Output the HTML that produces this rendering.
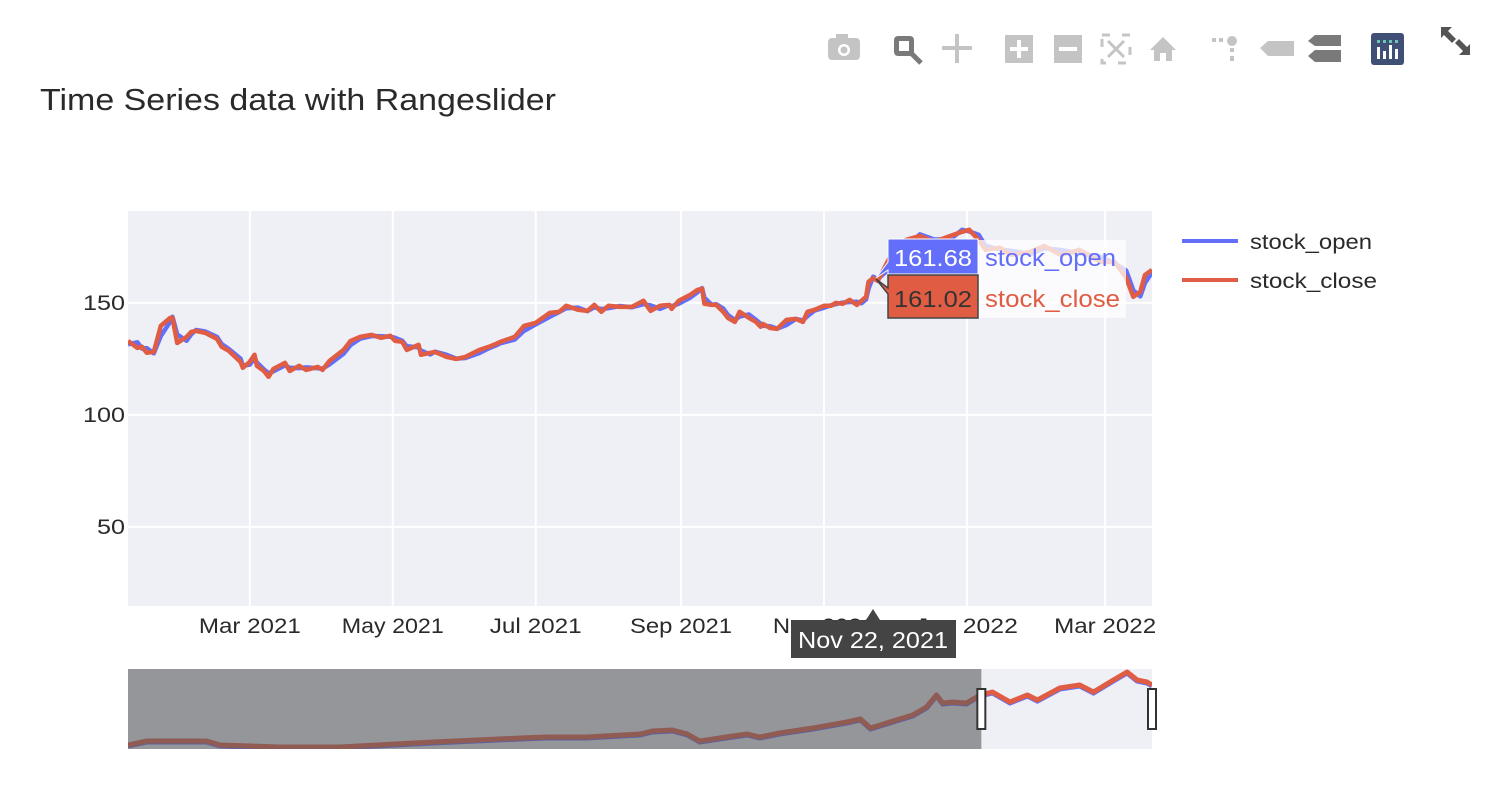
<!DOCTYPE html>
<html><head><meta charset="utf-8">
<style>
html,body{margin:0;padding:0;background:#fff;}
body{width:1502px;height:796px;overflow:hidden;font-family:"Liberation Sans",sans-serif;}
svg text{font-family:"Liberation Sans",sans-serif;}
</style></head>
<body>
<svg id="chart" width="1502" height="796" viewBox="0 0 1502 796">
  <g id="modebar">
    <g><rect x="828" y="38" width="32" height="22" rx="4" fill="#c4c4c4"/><rect x="836" y="34" width="12" height="6" fill="#c4c4c4"/><circle cx="844" cy="50" r="6" fill="#fff"/><circle cx="844" cy="50" r="3.5" fill="#c4c4c4"/></g>
    <g><rect x="894" y="36" width="20" height="20" rx="4" fill="#7a7a7a"/><rect x="899" y="41" width="10" height="10" fill="#fff"/><line x1="912" y1="54" x2="921" y2="63" stroke="#7a7a7a" stroke-width="5"/></g>
    <g stroke="#c4c4c4" stroke-width="4" fill="#c4c4c4"><line x1="957" y1="34" x2="957" y2="63"/><line x1="942" y1="48" x2="972" y2="48"/></g>
    <g><rect x="1005" y="35" width="28" height="28" fill="#c4c4c4"/><rect x="1017" y="40" width="4" height="18" fill="#fff"/><rect x="1010" y="47" width="18" height="4" fill="#fff"/></g>
    <g><rect x="1054" y="35" width="28" height="28" fill="#c4c4c4"/><rect x="1059" y="47" width="18" height="4" fill="#fff"/></g>
    <g stroke="#c4c4c4" stroke-width="3" fill="none"><rect x="1102" y="35" width="28" height="28" stroke-dasharray="8 12"/><line x1="1108" y1="41" x2="1124" y2="57"/><line x1="1124" y1="41" x2="1108" y2="57"/></g>
    <g><polygon points="1150,50 1163,37 1176,50 1172,50 1172,61 1154,61 1154,50" fill="#c4c4c4"/><rect x="1160" y="53" width="6" height="8" fill="#fff"/></g>
    <g fill="#c4c4c4"><rect x="1212" y="38" width="4" height="4"/><rect x="1219" y="38" width="4" height="4"/><circle cx="1232" cy="41" r="5"/><rect x="1230" y="48" width="4" height="4"/><rect x="1230" y="56" width="4" height="5"/></g>
    <g><polygon points="1260,48 1268,41 1294,41 1294,56 1268,56" fill="#c4c4c4"/></g>
    <g fill="#7a7a7a"><polygon points="1308,41 1315,35 1341,35 1341,46 1315,46"/><polygon points="1308,56 1315,50 1341,50 1341,62 1315,62"/></g>
    <g><rect x="1371" y="33" width="33" height="32" rx="3" fill="#3f4f75"/><g fill="#fff"><rect x="1377" y="47" width="3" height="12"/><rect x="1383" y="51" width="3" height="8"/><rect x="1389" y="45" width="3" height="14"/><rect x="1395" y="49" width="3" height="10"/></g><g fill="#69c5b5"><rect x="1377" y="40" width="3" height="3"/><rect x="1383" y="40" width="3" height="3"/><rect x="1389" y="40" width="3" height="3"/><rect x="1395" y="40" width="3" height="3"/></g></g>
    <g fill="#555"><polygon points="1441,27 1452,27 1448,31 1456,39 1452,43 1444,35 1441,38"/><polygon points="1470,55 1459,55 1463,51 1455,43 1459,39 1467,47 1470,44"/></g>
  </g>
  <text x="40" y="110" font-size="31" fill="#2a2a2a" textLength="516" lengthAdjust="spacingAndGlyphs">Time Series data with Rangeslider</text>
  <rect x="128" y="211" width="1024" height="395" fill="#eef0f5"/>
  <g id="grid"></g>
  <g id="yticks"></g>
  <g id="xticks"></g>
  <clipPath id="clipMain"><rect x="128" y="211" width="1024" height="395"/></clipPath>
  <g id="series" clip-path="url(#clipMain)"></g>
  <rect x="978" y="240" width="148" height="78" fill="#fff" opacity="0.75"/>
  <g>
    <polygon points="876,278 888,262 888,239 978,239 978,274 888,274 888,270" fill="#636efa" stroke="#fff" stroke-width="1"/>
    <text x="933" y="266" font-size="23" fill="#fff" text-anchor="middle" textLength="78" lengthAdjust="spacingAndGlyphs">161.68</text>
    <text x="985" y="266" font-size="24" fill="#636efa" textLength="131" lengthAdjust="spacingAndGlyphs">stock_open</text>
  </g>
  <g>
    <polygon points="876,279 888,288 888,275 978,275 978,318 888,318 888,294" fill="#e05d44" stroke="#444" stroke-width="1.5"/>
    <text x="933" y="307" font-size="23" fill="#333" text-anchor="middle" textLength="78" lengthAdjust="spacingAndGlyphs">161.02</text>
    <text x="985" y="307" font-size="24" fill="#e05d44" textLength="135" lengthAdjust="spacingAndGlyphs">stock_close</text>
  </g>
  <g>
    <polygon points="873,609 866,620 880,620" fill="#444"/>
    <rect x="791" y="620" width="165" height="38" fill="#444"/>
    <text x="873" y="648" font-size="23" fill="#fff" text-anchor="middle" textLength="150" lengthAdjust="spacingAndGlyphs">Nov 22, 2021</text>
  </g>
  <g>
    <g><line x1="1182" y1="241" x2="1238" y2="241" stroke="#636efa" stroke-width="4"/><text x="1250" y="249" font-size="21" fill="#2a2a2a" textLength="122" lengthAdjust="spacingAndGlyphs">stock_open</text></g>
    <g><line x1="1182" y1="280" x2="1238" y2="280" stroke="#e05d44" stroke-width="4"/><text x="1250" y="288" font-size="21" fill="#2a2a2a" textLength="127" lengthAdjust="spacingAndGlyphs">stock_close</text></g>
  </g>
  <g id="slider">
    <rect x="128" y="669" width="1024" height="80" fill="#eef0f5"/>
    <clipPath id="clipSlider"><rect x="128" y="669" width="1024" height="80"/></clipPath>
    <g id="sliderLines" clip-path="url(#clipSlider)"></g>
    <rect id="maskL" x="128" y="669" width="854" height="80" fill="#5a5a5e" opacity="0.6"/>
    <rect id="handleL" x="977" y="689" width="8" height="40" fill="#fff" stroke="#333" stroke-width="2"/>
    <rect id="handleR" x="1148" y="689" width="8" height="40" fill="#fff" stroke="#333" stroke-width="2"/>
  </g>
</svg>
<script>
const dates = ["2021-01-08","2021-01-12","2021-01-14","2021-01-16","2021-01-19","2021-01-22","2021-01-26","2021-01-27","2021-01-29","2021-02-02","2021-02-04","2021-02-06","2021-02-10","2021-02-15","2021-02-17","2021-02-20","2021-02-25","2021-02-26","2021-03-01","2021-03-03","2021-03-04","2021-03-07","2021-03-09","2021-03-11","2021-03-16","2021-03-18","2021-03-22","2021-03-25","2021-03-30","2021-04-01","2021-04-04","2021-04-10","2021-04-13","2021-04-17","2021-04-22","2021-04-26","2021-04-30","2021-05-02","2021-05-05","2021-05-07","2021-05-12","2021-05-13","2021-05-17","2021-05-19","2021-05-24","2021-05-28","2021-06-01","2021-06-07","2021-06-11","2021-06-14","2021-06-16","2021-06-22","2021-06-26","2021-07-01","2021-07-07","2021-07-11","2021-07-14","2021-07-19","2021-07-23","2021-07-26","2021-07-29","2021-08-01","2021-08-06","2021-08-11","2021-08-16","2021-08-19","2021-08-23","2021-08-27","2021-08-28","2021-08-31","2021-09-05","2021-09-08","2021-09-10","2021-09-11","2021-09-14","2021-09-16","2021-09-19","2021-09-21","2021-09-24","2021-09-26","2021-09-30","2021-10-03","2021-10-05","2021-10-06","2021-10-09","2021-10-12","2021-10-16","2021-10-20","2021-10-23","2021-10-25","2021-10-28","2021-11-01","2021-11-04","2021-11-06","2021-11-09","2021-11-12","2021-11-15","2021-11-17","2021-11-19","2021-11-20","2021-11-22","2021-11-24","2021-11-29","2021-12-06","2021-12-12","2021-12-18","2021-12-25","2021-12-30","2022-01-02","2022-01-06","2022-01-09","2022-01-15","2022-01-20","2022-01-28","2022-02-03","2022-02-10","2022-02-18","2022-02-27","2022-03-05","2022-03-10","2022-03-13","2022-03-16","2022-03-18","2022-03-21"];
const closeVals = [133.0,129.9,130.4,127.7,128.1,139.7,143.3,143.3,132.1,134.8,137.1,137.5,136.6,133.9,130.4,128.6,123.7,121.0,123.7,126.8,121.9,119.6,117.0,120.5,123.2,119.6,121.9,120.1,121.4,120.1,124.1,129.0,133.0,134.8,135.7,134.4,135.3,133.0,132.6,129.0,131.3,126.8,127.7,128.1,125.9,125.0,125.9,129.0,130.4,131.7,132.6,134.8,139.7,141.1,145.5,146.0,148.7,146.9,146.4,149.1,146.0,148.7,148.2,148.2,150.9,146.4,148.7,149.1,147.3,150.9,153.6,155.8,156.3,149.6,149.1,149.1,146.0,143.3,141.5,146.0,143.3,141.5,139.3,140.6,138.8,138.4,142.4,142.9,141.5,146.0,146.9,148.7,148.7,150.0,149.6,151.3,149.1,150.9,152.7,159.4,161.02,159.8,170.1,178.1,179.9,177.2,179.9,181.7,182.6,178.1,173.7,174.6,171.4,172.8,175.4,171.4,173.7,168.3,168.3,161.2,152.7,155.0,162.5,164.7];
const openVals = [131.5,132.4,129.6,129.8,127.5,135.2,141.6,143.8,135.9,133.1,136.0,137.9,137.2,134.8,131.6,129.4,125.1,122.0,122.4,125.3,123.4,120.3,118.6,119.4,122.1,121.0,120.9,121.2,120.8,120.6,122.6,127.3,131.2,134.0,135.2,135.1,134.9,134.4,133.1,130.6,130.1,128.7,127.0,128.2,126.8,125.1,125.4,127.6,129.7,131.0,132.0,133.6,137.5,140.4,143.8,145.9,147.6,147.9,146.3,148.0,147.2,147.6,148.6,148.0,149.4,148.9,147.3,149.0,148.5,149.6,152.4,154.7,156.6,152.3,149.2,149.4,147.5,144.6,142.3,143.9,144.8,142.4,140.6,139.8,139.6,138.5,140.1,142.8,142.2,144.1,146.6,147.8,148.9,149.4,150.1,150.4,150.5,149.8,151.6,156.3,161.68,160.6,165.4,175.2,180.6,178.3,178.4,182.6,181.9,180.4,175.4,173.9,173.2,171.8,174.4,173.6,172.2,170.6,167.6,164.4,155.6,152.9,158.9,163.6];
const yTicks = [50,100,150];
const xTickLabels = ["Mar 2021","May 2021","Jul 2021","Sep 2021","Nov 2021","Jan 2022","Mar 2022"];
const xTickDates = ["2021-03-01","2021-05-01","2021-07-01","2021-09-01","2021-11-01","2022-01-01","2022-03-01"];
const sliderYears = [2014.00,2014.15,2014.63,2014.74,2015.22,2015.70,2016.45,2017.15,2017.36,2017.68,2018.11,2018.21,2018.37,2018.49,2018.59,2018.75,2018.97,2019.07,2019.23,2019.50,2019.77,2019.88,2019.96,2020.09,2020.30,2020.41,2020.49,2020.54,2020.62,2020.73,2020.84,2020.94,2021.08,2021.22,2021.30,2021.48,2021.64,2021.75,2021.91,2022.02,2022.10,2022.18,2022.22];
const sliderVals = [23.5,32.3,32.3,23.5,19.1,19.1,30.1,38.9,41.1,41.1,47.8,54.4,56.6,47.8,32.3,38.9,47.8,41.1,50.0,61.0,74.2,80.8,61.0,72.0,89.6,107.3,133.7,116.1,118.3,116.1,133.7,140.3,118.3,133.7,122.7,149.1,155.8,140.3,166.8,184.4,166.8,162.4,155.8];
const sliderWindow = [2020.85, 2022.22];

const NS="http://www.w3.org/2000/svg";
const PL=128, PR=1152, PT=211, PB=606;
const xMin=Date.parse("2021-01-08"), xMax=Date.parse("2021-01-08")+437*86400000;
const yMin=14.7, yMax=191;
function xs(d){return PL+(Date.parse(d)-xMin)/(xMax-xMin)*(PR-PL);}
function ys(v){return PB-(v-yMin)/(yMax-yMin)*(PB-PT);}
const sMin=2014.0, sMax=2022.22, sT=669, sB=749;
function sx(y){return PL+(y-sMin)/(sMax-sMin)*(PR-PL);}
function sy(v){return sB-(v-yMin)/(yMax-yMin)*(sB-sT);}
function mk(tag,attrs,parent){const e=document.createElementNS(NS,tag);for(const k in attrs)e.setAttribute(k,attrs[k]);parent.appendChild(e);return e;}

const grid=document.getElementById('grid'), yt=document.getElementById('yticks'), xt=document.getElementById('xticks');
yTicks.forEach(v=>{
  const l=mk('line',{x1:PL,x2:PR,y1:ys(v),y2:ys(v),stroke:'#fff','stroke-width':2},grid);
  
  
  const t=mk('text',{x:PL-3,y:ys(v)+7,'font-size':21,fill:'#2a2a2a','text-anchor':'end',textLength:(String(v).length*14),lengthAdjust:'spacingAndGlyphs'},yt);
  t.textContent=v;
  
  
});
xTickDates.forEach((d,i)=>{
  const x=xs(d);
  const l=mk('line',{x1:x,x2:x,y1:PT,y2:PB,stroke:'#fff','stroke-width':2},grid);
  
  
  const t=mk('text',{x:x,y:633,'font-size':21,fill:'#2a2a2a','text-anchor':'middle',textLength:(xTickLabels[i].startsWith('Jul')?92:102),lengthAdjust:'spacingAndGlyphs'},xt);
  t.textContent=xTickLabels[i];
  
  
});
const series=document.getElementById('series');
function path(vals){return dates.map((d,i)=>(i?'L':'M')+xs(d).toFixed(1)+','+ys(vals[i]).toFixed(1)).join('');}
const po=mk('path',{d:path(openVals),fill:'none',stroke:'#636efa','stroke-width':4.5,'stroke-linejoin':'round'},series);


const pc=mk('path',{d:path(closeVals),fill:'none',stroke:'#e05d44','stroke-width':4.5,'stroke-linejoin':'round'},series);



const sl=document.getElementById('sliderLines');
const sd=sliderYears.map((y,i)=>(i?'L':'M')+sx(y).toFixed(1)+','+sy(sliderVals[i]).toFixed(1)).join('');
const so=mk('path',{d:sd,fill:'none',stroke:'#636efa','stroke-width':5,transform:'translate(0,1)'},sl);


const sc=mk('path',{d:sd,fill:'none',stroke:'#e05d44','stroke-width':5,'stroke-linejoin':'round'},sl);


const wl=sx(sliderWindow[0]), wr=sx(sliderWindow[1]);
document.getElementById('maskL').setAttribute('width',wl-PL);
document.getElementById('handleL').setAttribute('x',wl-4);
document.getElementById('handleR').setAttribute('x',wr-4);
</script>
</body></html>
